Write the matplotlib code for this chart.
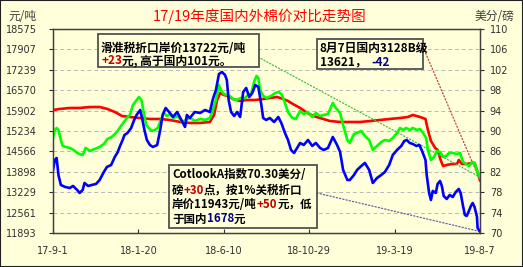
import pandas as pd
import matplotlib.pyplot as plt
from matplotlib.patches import Rectangle

plt.rcParams['font.family'] = ['Noto Sans CJK SC', 'DejaVu Sans']

W, H = 523, 267
BG = '#FFFFD9'

# 国内3128B级 (元/吨)
red_dates = ['2017-09-01', '2017-09-12', '2017-09-29', '2017-10-15', '2017-11-01', '2017-11-17',
             '2017-11-30', '2017-12-12', '2017-12-24', '2018-01-06', '2018-01-23', '2018-02-08',
             '2018-02-25', '2018-03-13', '2018-03-30', '2018-04-15', '2018-05-02', '2018-05-18',
             '2018-05-25', '2018-05-30', '2018-06-04', '2018-06-10', '2018-06-17', '2018-06-25',
             '2018-07-07', '2018-07-18', '2018-08-01', '2018-08-14', '2018-08-25', '2018-09-06',
             '2018-09-16', '2018-09-24', '2018-10-02', '2018-10-14', '2018-10-26', '2018-11-05',
             '2018-11-16', '2018-12-02', '2018-12-19', '2019-01-04', '2019-01-21', '2019-02-07',
             '2019-02-23', '2019-03-11', '2019-03-28', '2019-04-10', '2019-04-18', '2019-04-30',
             '2019-05-09', '2019-05-13', '2019-05-18', '2019-05-25', '2019-05-29', '2019-06-03',
             '2019-06-07', '2019-06-13', '2019-06-22', '2019-06-30', '2019-07-03', '2019-07-08',
             '2019-07-16', '2019-07-25', '2019-07-29', '2019-08-03', '2019-08-07']
red_vals = [15922, 15955, 15988, 15988, 16020, 16020, 15955, 15857, 15726, 15693, 15660, 15628,
            15628, 15595, 15529, 15497, 15497, 15529, 15759, 16250, 16479, 16414, 16381, 16283,
            16217, 16250, 16250, 16283, 16315, 16348, 16283, 16217, 16119, 15988, 15824, 15726,
            15660, 15562, 15529, 15529, 15529, 15562, 15595, 15628, 15660, 15693, 15759, 15693,
            15628, 15267, 14907, 14678, 14612, 14285, 14088, 14121, 14154, 14154, 14285, 14154,
            14154, 14187, 14187, 13892, 13621]

# 滑准税折口岸价 (元/吨)
green_dates = ['2017-09-01', '2017-09-04', '2017-09-07', '2017-09-10', '2017-09-14', '2017-09-17',
               '2017-09-22', '2017-09-29', '2017-10-05', '2017-10-11', '2017-10-15', '2017-10-20',
               '2017-10-25', '2017-11-01', '2017-11-09', '2017-11-17', '2017-11-24', '2017-11-30',
               '2017-12-07', '2017-12-14', '2017-12-20', '2017-12-27', '2018-01-01', '2018-01-06',
               '2018-01-11', '2018-01-16', '2018-01-21', '2018-01-25', '2018-01-28', '2018-02-02',
               '2018-02-06', '2018-02-11', '2018-02-16', '2018-02-21', '2018-02-26', '2018-03-03',
               '2018-03-08', '2018-03-13', '2018-03-19', '2018-03-26', '2018-04-02', '2018-04-08',
               '2018-04-15', '2018-04-23', '2018-05-02', '2018-05-10', '2018-05-18', '2018-05-23',
               '2018-05-28', '2018-06-02', '2018-06-05', '2018-06-10', '2018-06-15', '2018-06-20',
               '2018-06-25', '2018-07-02', '2018-07-08', '2018-07-15', '2018-07-20', '2018-07-25',
               '2018-07-30', '2018-08-03', '2018-08-06', '2018-08-09', '2018-08-14', '2018-08-20',
               '2018-08-27', '2018-09-03', '2018-09-09', '2018-09-14', '2018-09-19', '2018-09-24',
               '2018-10-01', '2018-10-07', '2018-10-14', '2018-10-20', '2018-10-27', '2018-11-03',
               '2018-11-09', '2018-11-16', '2018-11-22', '2018-11-29', '2018-12-07', '2018-12-12',
               '2018-12-19', '2018-12-24', '2018-12-31', '2019-01-04', '2019-01-11', '2019-01-16',
               '2019-01-23', '2019-01-29', '2019-02-05', '2019-02-11', '2019-02-18', '2019-02-25',
               '2019-03-03', '2019-03-10', '2019-03-16', '2019-03-23', '2019-03-28', '2019-04-02',
               '2019-04-07', '2019-04-13', '2019-04-18', '2019-04-25', '2019-04-30', '2019-05-05',
               '2019-05-10', '2019-05-13', '2019-05-18', '2019-05-23', '2019-05-28', '2019-06-02',
               '2019-06-07', '2019-06-12', '2019-06-17', '2019-06-23', '2019-06-30', '2019-07-05',
               '2019-07-10', '2019-07-15', '2019-07-20', '2019-07-25', '2019-07-29', '2019-08-03',
               '2019-08-07']
green_vals = [15005, 15267, 15333, 15267, 14940, 14744, 14711, 14678, 14612, 14514, 14481, 14448,
              14678, 14580, 14645, 14711, 14809, 14973, 15038, 15169, 15333, 15529, 15660, 15759,
              16086, 16217, 16348, 16250, 15922, 15431, 15333, 15235, 15267, 15333, 15595, 15824,
              15726, 15791, 15660, 15726, 15529, 15595, 15660, 15562, 15628, 15595, 15660, 15922,
              16250, 16741, 16577, 16446, 16414, 16381, 16283, 16250, 16315, 16315, 16414, 16446,
              16839, 17036, 16970, 16577, 16381, 16315, 16381, 16479, 16512, 16414, 16152, 15857,
              15660, 15628, 15889, 15791, 15857, 15693, 15824, 15726, 15759, 15791, 16152, 15988,
              15824, 15431, 14940, 14842, 15136, 15169, 15235, 15071, 14940, 14612, 14744, 14874,
              14940, 14907, 15005, 15169, 15333, 15267, 15333, 15267, 15333, 15267, 15300, 15169,
              15005, 14612, 14285, 14383, 14580, 14547, 14383, 14416, 14514, 14514, 14481, 14514,
              14219, 14154, 14088, 14219, 14187, 13890, 13722]

# Cotlook A 1%关税折口岸价 (元/吨)
blue_dates = ['2017-09-01', '2017-09-04', '2017-09-07', '2017-09-10', '2017-09-14', '2017-09-21',
              '2017-09-29', '2017-10-04', '2017-10-11', '2017-10-15', '2017-10-20', '2017-10-23',
              '2017-10-29', '2017-11-04', '2017-11-11', '2017-11-17', '2017-11-24', '2017-11-29',
              '2017-12-06', '2017-12-12', '2017-12-17', '2017-12-20', '2017-12-25', '2017-12-28',
              '2018-01-02', '2018-01-08', '2018-01-13', '2018-01-17', '2018-01-23', '2018-01-26',
              '2018-01-30', '2018-02-03', '2018-02-08', '2018-02-13', '2018-02-20', '2018-02-25',
              '2018-03-01', '2018-03-06', '2018-03-13', '2018-03-18', '2018-03-25', '2018-04-01',
              '2018-04-07', '2018-04-10', '2018-04-15', '2018-04-23', '2018-05-02', '2018-05-10',
              '2018-05-18', '2018-05-23', '2018-05-28', '2018-06-02', '2018-06-07', '2018-06-12',
              '2018-06-15', '2018-06-18', '2018-06-22', '2018-06-27', '2018-07-02', '2018-07-07',
              '2018-07-12', '2018-07-17', '2018-07-22', '2018-07-27', '2018-08-01', '2018-08-06',
              '2018-08-11', '2018-08-14', '2018-08-19', '2018-08-25', '2018-09-01', '2018-09-08',
              '2018-09-13', '2018-09-19', '2018-09-24', '2018-09-29', '2018-10-04', '2018-10-09',
              '2018-10-14', '2018-10-20', '2018-10-27', '2018-11-03', '2018-11-09', '2018-11-16',
              '2018-11-22', '2018-11-29', '2018-12-07', '2018-12-14', '2018-12-19', '2018-12-24',
              '2018-12-31', '2019-01-04', '2019-01-11', '2019-01-16', '2019-01-23', '2019-01-29',
              '2019-02-05', '2019-02-11', '2019-02-18', '2019-02-25', '2019-03-03', '2019-03-10',
              '2019-03-16', '2019-03-23', '2019-03-30', '2019-04-04', '2019-04-08', '2019-04-13',
              '2019-04-18', '2019-04-24', '2019-04-29', '2019-05-04', '2019-05-09', '2019-05-11',
              '2019-05-15', '2019-05-18', '2019-05-21', '2019-05-26', '2019-05-29', '2019-06-02',
              '2019-06-05', '2019-06-08', '2019-06-13', '2019-06-18', '2019-06-23', '2019-06-28',
              '2019-07-03', '2019-07-06', '2019-07-10', '2019-07-13', '2019-07-16', '2019-07-19',
              '2019-07-23', '2019-07-26', '2019-07-29', '2019-08-02', '2019-08-03', '2019-08-07']
blue_vals = [13957, 14285, 14350, 13794, 13466, 13401, 13368, 13434, 13302, 13204, 13302, 13532,
             13434, 13466, 13499, 13630, 13892, 14056, 14121, 14383, 14547, 14711, 14940, 15104,
             15169, 15333, 15595, 15759, 15922, 15660, 15267, 14940, 14776, 14711, 14776, 15267,
             15759, 15988, 15824, 15693, 15857, 15595, 15366, 15759, 15660, 15857, 15824, 15922,
             15857, 16283, 16577, 17101, 17167, 17069, 16905, 16250, 15857, 15726, 15857, 15693,
             16512, 16643, 16348, 16479, 16741, 16676, 16086, 15660, 15595, 15660, 15529, 15693,
             15497, 15169, 14940, 14612, 14514, 14678, 14842, 14776, 14940, 14744, 14842, 14678,
             14612, 14678, 15038, 14776, 14547, 13957, 13630, 13630, 13794, 13957, 14088, 14187,
             13957, 13532, 13696, 13794, 13892, 14121, 14448, 14612, 14744, 14907, 14940, 14842,
             14809, 14744, 14776, 14547, 14285, 13794, 13204, 12975, 13270, 13204, 13499, 13597,
             13434, 13106, 13008, 13139, 13073, 13237, 13335, 13204, 12778, 12484, 12451, 12582,
             12778, 12876, 12746, 12418, 12058, 11943]

left_ticks = [18575, 17907, 17239, 16570, 15902, 15234, 14566, 13898, 13229, 12561, 11893]
right_ticks = [110, 106, 102, 98, 94, 90, 86, 82, 78, 74, 70]
x_ticks = ['2017-09-01', '2018-01-20', '2018-06-10', '2018-10-29', '2019-03-19', '2019-08-07']
x_labels = ['17-9-1', '18-1-20', '18-6-10', '18-10-29', '19-3-19', '19-8-7']


def fx(x):
    return x / W


def fy(y):
    return 1 - y / H


fig = plt.figure(figsize=(W / 100, H / 100), dpi=100, facecolor=BG)
ax = fig.add_axes([fx(53), fy(233), fx(480) - fx(53), fy(29) - fy(233)])
ax.set_facecolor(BG)

ax.plot(pd.to_datetime(red_dates), red_vals, color='#FF0000', lw=1.9, zorder=3)
ax.plot(pd.to_datetime(green_dates), green_vals, color='#00FF00', lw=1.9, zorder=4)
ax.plot(pd.to_datetime(blue_dates), blue_vals, color='#0000FF', lw=1.9, zorder=5)

ax.set_xlim(pd.Timestamp(x_ticks[0]), pd.Timestamp(x_ticks[-1]))
ax.set_ylim(left_ticks[-1], left_ticks[0])
ax.set_yticks(left_ticks)
ax.set_xticks(pd.to_datetime(x_ticks))
ax.set_xticklabels(x_labels)
ax.yaxis.grid(True, ls=(0, (4, 3)), color='#B8B8B8', lw=0.7)
ax.tick_params(axis='y', direction='out', length=3, pad=8.5, labelsize=7, colors='#303030')
ax.tick_params(axis='x', direction='in', length=3, pad=9, labelsize=7, colors='#303030')
for s in ax.spines.values():
    s.set_color('#404040')
    s.set_linewidth(1)

ax2 = ax.twinx()
ax2.set_ylim(right_ticks[-1], right_ticks[0])
ax2.set_yticks(right_ticks)
ax2.tick_params(axis='y', direction='out', length=3, pad=4, labelsize=7, colors='#303030')
for s in ax2.spines.values():
    s.set_color('#404040')
for lab in ax.get_yticklabels() + ax.get_xticklabels() + ax2.get_yticklabels():
    lab.set_family('DejaVu Sans')
    lab.set_color('#303030')

# title and units
fig.text(fx(260), fy(16), '17/19年度国内外棉价对比走势图', color='#FF0000', fontsize=10.5,
         ha='center', va='center')
fig.text(fx(8), fy(16), '元/吨', color='#404040', fontsize=8.5, ha='left', va='center')
fig.text(fx(514), fy(16), '美分/磅', color='#404040', fontsize=8.5, ha='right', va='center')

# connector lines to the last points
ax.annotate('', xy=(pd.Timestamp(green_dates[-1]), green_vals[-1]), xytext=(fx(258), fy(57)),
            textcoords='figure fraction',
            arrowprops=dict(arrowstyle='-', ls=':', color='#40C040', lw=0.9, shrinkA=0, shrinkB=0))
ax.annotate('', xy=(pd.Timestamp(red_dates[-1]), red_vals[-1]), xytext=(fx(423), fy(47)),
            textcoords='figure fraction',
            arrowprops=dict(arrowstyle='-', ls=':', color='#C04040', lw=0.9, shrinkA=0, shrinkB=0))
ax.annotate('', xy=(pd.Timestamp(blue_dates[-1]), blue_vals[-1]), xytext=(fx(317), fy(193)),
            textcoords='figure fraction',
            arrowprops=dict(arrowstyle='-', ls=':', color='#6060A0', lw=0.9, shrinkA=0, shrinkB=0))

renderer = fig.canvas.get_renderer()


def box(x0, y0, x1, y1):
    fig.add_artist(Rectangle((fx(x0), fy(y1)), fx(x1) - fx(x0), fy(y0) - fy(y1),
                             transform=fig.transFigure, facecolor=BG, edgecolor='#505050',
                             lw=1.3, zorder=10))


def rich(x, y, parts, size=8.5):
    for s, c in parts:
        t = fig.text(fx(x), fy(y), s, color=c, fontsize=size, fontweight='bold',
                     ha='left', va='center', zorder=11)
        x += t.get_window_extent(renderer).width


DARK_RED = '#C00000'
NAVY = '#000080'
BLACK = '#000000'

box(98, 34, 259, 67)
rich(101, 48, [('滑准税折口岸价13722元/吨', BLACK)])
rich(101, 61, [('+23', DARK_RED), ('元, 高于国内101元。', BLACK)])

box(317, 39, 423, 69)
rich(320, 48, [('8月7日国内3128B级', BLACK)])
rich(320, 62, [('13621，  ', BLACK), ('-42', NAVY)])

box(169, 165, 317, 228)
rich(172, 175, [('CotlookA指数70.30美分/', BLACK)], size=8.3)
rich(172, 190, [('磅', BLACK), ('+30', DARK_RED), ('点，按1%关税折口', BLACK)], size=8.3)
rich(172, 204, [('岸价11943元/吨', BLACK), ('+50', DARK_RED), ('元，低', BLACK)], size=8.3)
rich(172, 219, [('于国内', BLACK), ('1678', NAVY), ('元', BLACK)], size=8.3)

fig.add_artist(Rectangle((0, 0), 1, 1, transform=fig.transFigure, fill=False,
                         edgecolor='#202020', lw=1.5, zorder=20))

fig.savefig('out.png', dpi=100, facecolor=BG)
